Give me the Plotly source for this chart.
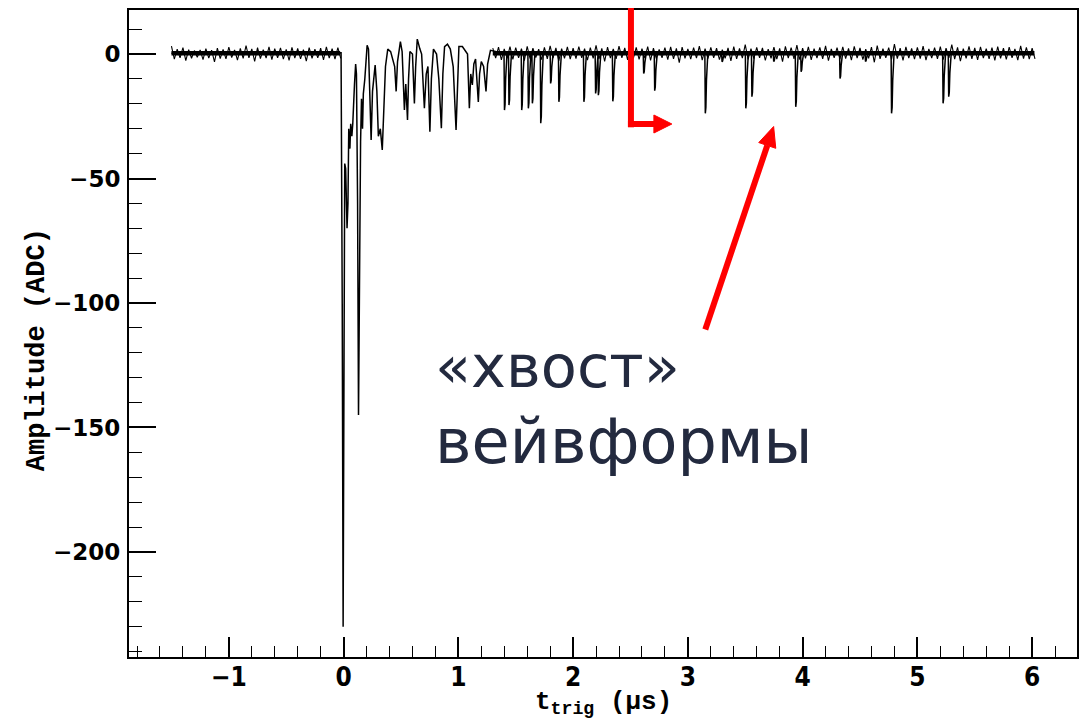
import numpy as np
import plotly.graph_objects as go

# ---------------- data ----------------
# dense part of the waveform right after the trigger: vertices (µs, ADC)
head_t = [-0.022, -0.012, -0.004, 0.004, 0.010, 0.018, 0.030, 0.038, 0.045, 0.055,
          0.062, 0.072, 0.080, 0.095, 0.105, 0.112, 0.122, 0.130, 0.138, 0.148,
          0.156, 0.165, 0.172, 0.185, 0.205, 0.217, 0.240, 0.252, 0.275, 0.290,
          0.303, 0.320, 0.337, 0.352, 0.365, 0.385, 0.410, 0.445, 0.458, 0.470,
          0.495, 0.510, 0.530, 0.542, 0.557, 0.566, 0.578, 0.600, 0.617, 0.628,
          0.642, 0.665, 0.680, 0.704, 0.720, 0.735, 0.752, 0.765, 0.783, 0.810,
          0.830, 0.852, 0.865, 0.880, 0.905, 0.930, 0.955, 0.980, 0.992, 1.005,
          1.035, 1.080, 1.096, 1.108, 1.122, 1.135, 1.150, 1.174, 1.185, 1.200,
          1.220, 1.241, 1.255, 1.280]
head_amp = [0.5, -100, -230, -120, -44, -46, -70, -60, -30, -38,
            -28, -33, -28, -12, -4, -8, -60, -145, -80, -35,
            -18, -30, -16, -10, 3.5, 2, -34.5, -15, -4.4, -15,
            -33, -30, -38.5, -21, -5, 2, 1, -5, -15, -3,
            5, 1, -22.5, -12, -26.5, -10, 1, 0, -19.8, -5,
            6, 2, 0, -21.8, -8, -5, -31.2, -10, 2, 0,
            -10, -29.8, -8, 3, 4, 2, -5, -30.5, -10, 3,
            3, 0, -21.8, -8, -12.4, -4, -2, -19.2, -8, -3,
            -5, -15, -4, 1.5]

# isolated pulses in the tail of the waveform (µs, minimum ADC)
pulse_t = [1.404, 1.443, 1.554, 1.612, 1.647, 1.720, 1.806, 1.878, 2.096, 2.198,
           2.222, 2.348, 2.617, 2.713, 3.154, 3.300, 3.507, 3.560, 3.750, 3.942,
           3.989, 4.328, 4.550, 4.777, 5.226, 5.275]
pulse_amp = [-22.5, -20.5, -22.5, -21.8, -19.8, -27.8, -11.8, -19.2, -19.2, -15.8,
             -16.5, -19.0, -7.8, -14.7, -23.8, -3.1, -21.8, -17.1, -3.0, -21.2,
             -7.1, -9.8, -3.0, -23.8, -19.8, -17.1]

# baseline noise (upper / lower excursions, every 0.05 µs from -1.5 to 6.0)
noise_upper = [3.2, 2.0, 2.6, 1.8, 1.4, 1.7, 2.2, 1.6, 2.4, 1.9,
               2.8, 1.7, 2.3, 3.4, 2.1, 2.6, 1.8, 2.9, 2.2, 2.5,
               1.9, 2.7, 2.3, 1.8, 2.6, 2.0, 2.4, 2.9, 2.2, 2.6,
               2.0, 2.0, 2.0, 2.0, 2.0, 2.0, 2.0, 2.0, 2.0, 2.0,
               2.0, 2.0, 2.0, 2.0, 2.0, 2.0, 2.0, 2.0, 2.0, 2.0,
               2.0, 2.0, 2.0, 2.0, 2.0, 2.0, 2.4, 2.8, 2.1, 3.0,
               2.6, 2.2, 3.1, 2.4, 2.0, 2.7, 3.3, 2.5, 2.2, 2.9,
               2.4, 3.0, 2.2, 2.6, 3.5, 2.3, 2.8, 2.1, 3.2, 2.5,
               4.6, 2.7, 2.2, 3.0, 2.4, 1.9, 2.6, 2.9, 2.3, 2.8,
               2.1, 2.6, 3.2, 2.2, 2.7, 2.4, 1.8, 2.5, 3.0, 2.3,
               3.8, 2.2, 2.7, 2.5, 2.0, 2.8, 2.3, 3.1, 2.6, 3.6,
               2.4, 2.9, 2.2, 2.7, 3.3, 2.1, 2.6, 2.9, 2.3, 3.1,
               2.5, 2.0, 2.8, 3.4, 2.2, 2.6, 4.0, 2.4, 2.9, 2.3,
               2.7, 3.2, 2.1, 2.6, 3.0, 2.4, 3.8, 2.7, 2.2, 3.1,
               2.5, 2.9, 2.2, 2.6, 3.0, 2.4, 2.8, 2.1, 3.3, 2.7,
               2.4]
noise_lower = [-2.0, -1.5, -2.6, -1.7, -1.3, -2.2, -1.6, -3.1, -1.8, -1.9,
               -1.4, -2.4, -1.7, -1.5, -2.9, -1.8, -1.6, -2.2, -1.5, -2.0,
               -2.5, -1.6, -1.9, -2.8, -1.7, -1.5, -2.3, -1.6, -2.0, -1.7,
               -1.8, -1.8, -1.8, -1.8, -1.8, -1.8, -1.8, -1.8, -1.8, -1.8,
               -1.8, -1.8, -1.8, -1.8, -1.8, -1.8, -1.8, -1.8, -1.8, -1.8,
               -1.8, -1.8, -1.8, -1.8, -1.8, -1.8, -1.6, -2.3, -1.7, -2.1,
               -1.5, -2.6, -1.8, -1.4, -2.2, -1.9, -1.6, -2.7, -1.7, -2.0,
               -1.8, -1.5, -2.4, -1.7, -2.0, -2.9, -1.6, -1.9, -1.5, -2.3,
               -1.7, -2.1, -1.6, -2.5, -1.8, -1.5, -2.2, -1.9, -3.4, -1.7,
               -2.0, -1.6, -2.4, -1.8, -1.5, -2.2, -1.7, -2.7, -1.9, -1.6,
               -2.1, -1.8, -1.5, -2.5, -1.7, -2.0, -3.0, -1.6, -1.9, -2.2,
               -1.7, -2.3, -1.6, -1.9, -2.6, -1.5, -2.0, -1.8, -2.4, -1.6,
               -2.2, -1.7, -3.3, -1.9, -1.5, -2.1, -1.8, -2.5, -1.6, -2.0,
               -1.8, -2.4, -1.6, -1.9, -2.2, -1.5, -2.0, -2.8, -1.7, -1.9,
               -2.3, -1.6, -1.9, -2.5, -1.7, -2.1, -1.5, -2.4, -1.8, -2.0,
               -1.9]

trace_start, trace_end, baseline = -1.5, 6.0, 0.3
x_ticks = [-1, 0, 1, 2, 3, 4, 5, 6]
y_ticks = [0, -50, -100, -150, -200]

label_line1 = "«хвост»"
label_line2 = "вейвформы"
x_title = "<b>t<sub>trig</sub> (µs)</b>"
y_title = "<b>Amplitude (ADC)</b>"

assert len(head_t) == len(head_amp)
assert len(pulse_t) == len(pulse_amp)
assert len(noise_upper) == len(noise_lower) == 151

# ---------------- build the polylines ----------------
wave_t = [trace_start]
wave_a = [baseline]
wave_t += head_t
wave_a += head_amp
for t0, a in zip(pulse_t, pulse_amp):
    wave_t += [t0 - 0.006, t0 - 0.002, t0 + 0.003, t0 + 0.008, t0 + 0.02]
    wave_a += [baseline, a, 0.9 * a, 0.45 * a, baseline]
wave_t.append(trace_end)
wave_a.append(baseline)

band_t = np.round(np.linspace(trace_start, trace_end, 151), 3)
up = np.array(noise_upper)
lo = np.array(noise_lower)

fig = go.Figure()
for mask in (band_t <= -0.04, band_t >= 1.30):
    tt = band_t[mask]
    # dark core of the noisy baseline
    fig.add_trace(go.Scatter(x=[tt[0], tt[-1] + 0.02], y=[baseline, baseline], mode="lines",
                             line=dict(color="black", width=4.5),
                             hoverinfo="skip", showlegend=False))
    zt = np.empty(2 * len(tt))
    za = np.empty(2 * len(tt))
    zt[0::2] = tt
    zt[1::2] = tt + 0.025
    za[0::2] = up[mask]
    za[1::2] = lo[mask]
    fig.add_trace(go.Scatter(x=zt, y=za, mode="lines",
                             line=dict(color="black", width=1.1),
                             hoverinfo="skip", showlegend=False))

fig.add_trace(go.Scatter(x=wave_t, y=wave_a, mode="lines",
                         line=dict(color="black", width=1.5),
                         showlegend=False))

# ---------------- layout ----------------
W, H = 1086, 723
L, R, T, B = 129, 1079, 10, 657


def px(x):
    return (x - L) / (R - L)


def py(y):
    return (B - y) / (B - T)


fig.update_layout(
    width=W, height=H,
    margin=dict(l=L, r=W - R, t=T, b=H - B, pad=0),
    paper_bgcolor="white", plot_bgcolor="white",
    showlegend=False,
    xaxis=dict(range=[-1.870, 6.391], tickvals=x_ticks,
               showline=True, linecolor="black", linewidth=2, mirror=True,
               ticks="inside", ticklen=20, tickwidth=1.5, tickcolor="black",
               minor=dict(ticks="inside", ticklen=11, dtick=0.2, tick0=0,
                          tickcolor="black", tickwidth=1.2, showgrid=False),
               showgrid=False, zeroline=False,
               tickfont=dict(family="DejaVu Sans Condensed, Liberation Sans Narrow, Arial Narrow, Liberation Sans, sans-serif",
                             size=26, color="black", weight="bold"),
               ticklabelstandoff=-4),
    yaxis=dict(range=[-242.2, 17.7], tickvals=y_ticks,
               showline=True, linecolor="black", linewidth=2, mirror=True,
               ticks="inside", ticklen=27, tickwidth=1.5, tickcolor="black",
               minor=dict(ticks="inside", ticklen=13, dtick=10, tick0=0,
                          tickcolor="black", tickwidth=1.2, showgrid=False),
               showgrid=False, zeroline=False,
               tickfont=dict(family="DejaVu Sans, sans-serif", size=23,
                             color="black", weight="bold"),
               ticklabelstandoff=2),
)

annotations = [
    dict(text=x_title, xref="paper", yref="paper", x=0.5, y=py(703),
         xanchor="center", yanchor="middle", showarrow=False,
         font=dict(family="Liberation Mono, Courier New, monospace", size=26, color="black")),
    dict(text=y_title, xref="paper", yref="paper", x=px(37), y=py(350),
         xanchor="center", yanchor="middle", showarrow=False, textangle=-90,
         font=dict(family="Liberation Mono, Courier New, monospace", size=27, color="black")),
    dict(text=label_line1, xref="paper", yref="paper", x=px(434), y=py(366),
         xanchor="left", yanchor="middle", showarrow=False,
         font=dict(family="DejaVu Sans, sans-serif", size=59, color="#232a3f")),
    dict(text=label_line2, xref="paper", yref="paper", x=px(434), y=py(441),
         xanchor="left", yanchor="middle", showarrow=False,
         font=dict(family="DejaVu Sans, sans-serif", size=62, color="#232a3f")),
]
fig.update_layout(annotations=annotations)

RED = "#ff0000"
shapes = []


def seg(x0, y0, x1, y1, w=6):
    shapes.append(dict(type="line", xref="paper", yref="paper",
                       x0=px(x0), y0=py(y0), x1=px(x1), y1=py(y1),
                       line=dict(color=RED, width=w), layer="above"))


def tri(pts):
    p = "M " + " L ".join(f"{px(a)},{py(b)}" for a, b in pts) + " Z"
    shapes.append(dict(type="path", xref="paper", yref="paper", path=p,
                       fillcolor=RED, line=dict(color=RED, width=1), layer="above"))


# L-shaped arrow
seg(632, 8, 632, 127.3)
seg(629, 124, 657, 124)
tri([(655, 115), (673, 124), (655, 133)])

# diagonal arrow
tail = np.array([706.5, 329.5])
tip = np.array([775.0, 126.5])
u = (tip - tail) / np.linalg.norm(tip - tail)
n = np.array([-u[1], u[0]])
base = tip - 20 * u
seg(tail[0], tail[1], base[0], base[1])
tri([tuple(tip), tuple(base + 9 * n), tuple(base - 9 * n)])

fig.update_layout(shapes=shapes)

fig.write_html("out.html", config={"displayModeBar": False},
               post_script="document.body.style.margin='0';")
